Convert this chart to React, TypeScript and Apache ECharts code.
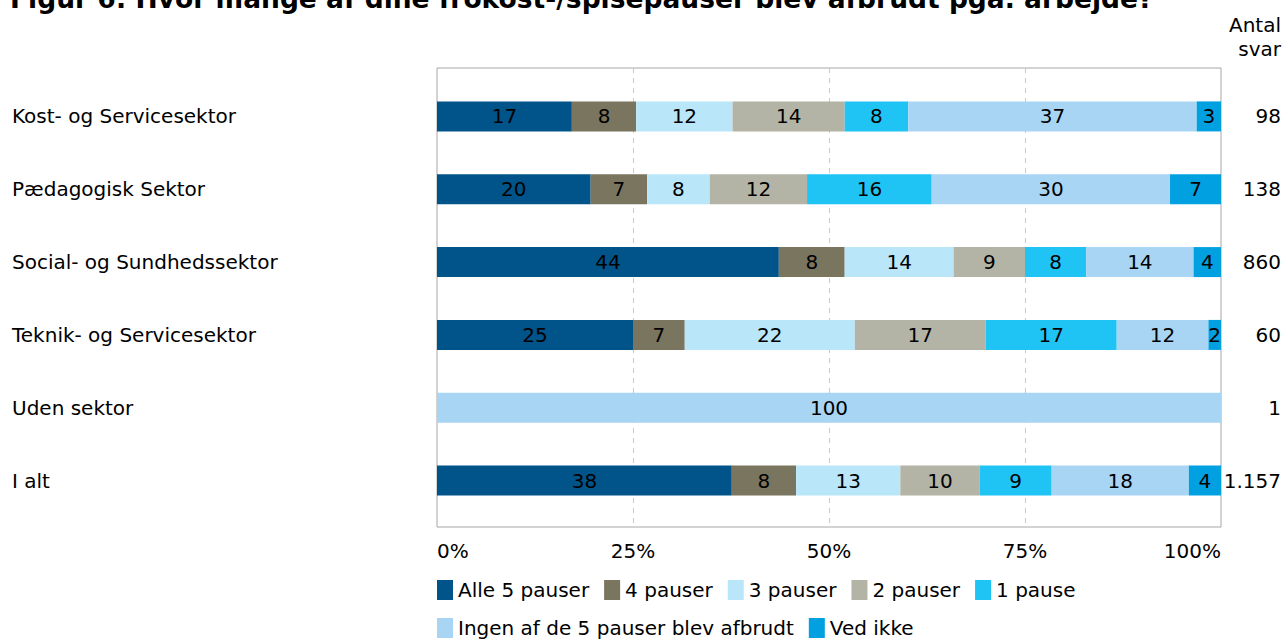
import React, { useEffect, useRef } from "react";
import * as echarts from "echarts";

const FONT = "'DejaVu Sans', Verdana, sans-serif";

const titleText = "Figur 6: Hvor mange af dine frokost-/spisepauser blev afbrudt pga. arbejde?";
const antalHeader = "Antal\nsvar";

const categories = [
  "Kost- og Servicesektor",
  "Pædagogisk Sektor",
  "Social- og Sundhedssektor",
  "Teknik- og Servicesektor",
  "Uden sektor",
  "I alt",
];
const antalSvar = ["98", "138", "860", "60", "1", "1.157"];

const seriesNames = [
  "Alle 5 pauser",
  "4 pauser",
  "3 pauser",
  "2 pauser",
  "1 pause",
  "Ingen af de 5 pauser blev afbrudt",
  "Ved ikke",
];
const seriesColors = ["#00548A", "#79755F", "#BAE6FA", "#B3B4A6", "#20C4F4", "#A9D5F5", "#00A0E1"];

const alle5 = [17.2, 19.6, 43.6, 25.0, 0, 37.6];
const fire = [8.2, 7.2, 8.4, 6.6, 0, 8.2];
const tre = [12.3, 8.0, 13.9, 21.7, 0, 13.3];
const to = [14.3, 12.4, 9.1, 16.7, 0, 10.1];
const en = [8.1, 15.9, 7.8, 16.7, 0, 9.2];
const ingen = [36.8, 30.4, 13.7, 11.7, 100, 17.5];
const vedIkke = [3.1, 6.5, 3.5, 1.6, 0, 4.1];
const seriesValues = [alle5, fire, tre, to, en, ingen, vedIkke];

const xTickInterval = 25;

export default function App() {
  const ref = useRef<HTMLDivElement>(null);
  useEffect(() => {
    if (!ref.current) return;
    const chart = echarts.init(ref.current, undefined, { renderer: "svg" });
    const legendCommon = {
      left: 437,
      orient: "horizontal",
      icon: "rect",
      itemWidth: 16,
      itemHeight: 20,
      itemGap: 15,
      padding: 0,
      selectedMode: false,
      textStyle: { fontSize: 20, color: "#000", fontFamily: FONT },
    };
    chart.setOption({
      animation: false,
      textStyle: { fontFamily: FONT },
      graphic: [
        {
          type: "text",
          left: 10,
          top: -15,
          style: { text: titleText, fontSize: 26.5, fontWeight: "bold", fill: "#000", fontFamily: FONT },
        },
        {
          type: "text",
          x: 1281,
          y: 13,
          style: {
            text: antalHeader,
            fontSize: 20,
            lineHeight: 24,
            align: "right",
            verticalAlign: "top",
            fill: "#000",
            fontFamily: FONT,
          },
        },
      ],
      legend: [
        { ...legendCommon, top: 580, data: seriesNames.slice(0, 5) },
        { ...legendCommon, top: 618, data: seriesNames.slice(5) },
      ],
      grid: [
        { left: 437, right: 64, top: 80, height: 437 },
        {
          left: 437,
          right: 64,
          top: 68,
          height: 459,
          show: true,
          borderColor: "#a6a6a6",
          borderWidth: 1,
          backgroundColor: "transparent",
        },
      ],
      xAxis: [
        { gridIndex: 0, type: "value", min: 0, max: 100, show: false },
        {
          gridIndex: 1,
          type: "value",
          min: 0,
          max: 100,
          interval: xTickInterval,
          axisLine: { show: false },
          axisTick: { show: false },
          splitLine: {
            show: true,
            showMinLine: false,
            showMaxLine: false,
            lineStyle: { type: [5, 5], color: "#c8c8c8", width: 1 },
          },
          axisLabel: {
            formatter: "{value}%",
            fontSize: 20,
            color: "#000",
            margin: 14,
            alignMinLabel: "left",
            alignMaxLabel: "right",
            fontFamily: FONT,
          },
        },
      ],
      yAxis: [
        {
          gridIndex: 0,
          type: "category",
          data: categories,
          inverse: true,
          axisLine: { show: false },
          axisTick: { show: false },
          axisLabel: { align: "left", margin: 425, fontSize: 20, color: "#000", fontFamily: FONT },
        },
        {
          gridIndex: 0,
          type: "category",
          data: categories,
          inverse: true,
          position: "right",
          axisLine: { show: false },
          axisTick: { show: false },
          axisLabel: {
            align: "right",
            margin: 60,
            fontSize: 20,
            color: "#000",
            fontFamily: FONT,
            formatter: (_v: string, i: number) => antalSvar[i],
          },
        },
        { gridIndex: 1, type: "value", min: 0, max: 1, show: false },
      ],
      series: seriesNames.map((name, i) => ({
        name,
        type: "bar",
        stack: "total",
        xAxisIndex: 0,
        yAxisIndex: 0,
        barWidth: 30,
        itemStyle: { color: seriesColors[i] },
        label: {
          show: true,
          position: "inside",
          color: "#000",
          fontSize: 20,
          fontFamily: FONT,
          formatter: (p: any) => (p.value ? String(Math.round(p.value)) : ""),
        },
        data: seriesValues[i],
      })),
    });
    return () => chart.dispose();
  }, []);
  return (
    <div
      ref={ref}
      style={{ position: "fixed", left: 0, top: 0, width: 1285, height: 639, background: "#fff" }}
    />
  );
}
